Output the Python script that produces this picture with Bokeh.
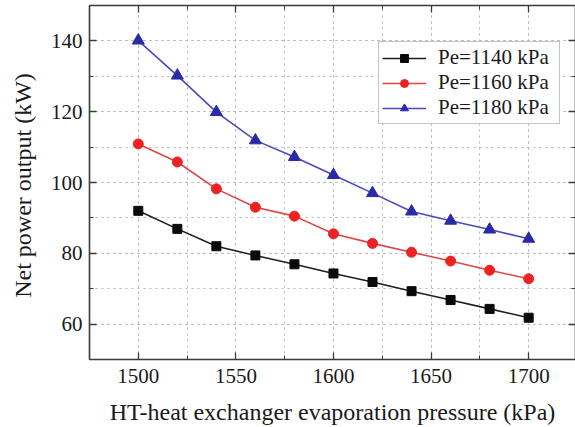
from bokeh.plotting import figure
from bokeh.models import (LinearAxis, SingleIntervalTicker, Range1d, Legend,
                          LegendItem, Grid)
from bokeh.embed import file_html
from bokeh.resources import INLINE

# HT-heat exchanger evaporation pressure (kPa)
pressure = [1500, 1520, 1540, 1560, 1580, 1600, 1620, 1640, 1660, 1680, 1700]

# Net power output (kW) for each condensing pressure Pe
power_1140 = [92.0, 86.9, 82.0, 79.4, 76.9, 74.3, 71.9, 69.3, 66.8, 64.3, 61.8]
power_1160 = [110.9, 105.8, 98.2, 93.0, 90.5, 85.5, 82.8, 80.3, 77.8, 75.2, 72.8]
power_1180 = [140.1, 130.2, 119.9, 111.9, 107.2, 102.1, 97.0, 91.8, 89.2, 86.7, 84.1]

series_labels = ["Pe=1140 kPa", "Pe=1160 kPa", "Pe=1180 kPa"]

FONT = "Liberation Serif"
TEXT = "#1a1a1a"
AXIS = "#3a3a3a"

p = figure(width=575, height=427, output_backend="svg", toolbar_location=None,
           x_range=Range1d(1475, 1724), y_range=Range1d(50, 150),
           x_axis_type=None, y_axis_type=None,
           min_border_left=89, min_border_right=0, min_border_top=5,
           min_border_bottom=66)
p.outline_line_color = None
p.background_fill_color = "white"
p.border_fill_color = "white"

xt = SingleIntervalTicker(interval=50, num_minor_ticks=2)
yt = SingleIntervalTicker(interval=20, num_minor_ticks=2)


def style_axis(ax, show_labels):
    ax.axis_line_color = AXIS
    ax.axis_line_width = 1.6
    ax.major_tick_line_color = AXIS
    ax.minor_tick_line_color = AXIS
    ax.major_tick_line_width = 1.3
    ax.minor_tick_line_width = 1.0
    ax.major_tick_in = 7
    ax.major_tick_out = 0
    ax.minor_tick_in = 4
    ax.minor_tick_out = 0
    ax.major_label_text_font = FONT
    ax.major_label_text_font_size = "21px"
    ax.axis_label_text_font = FONT
    ax.axis_label_text_font_style = "normal"
    ax.axis_label_text_color = TEXT
    ax.axis_label_text_font_size = "24px"
    if show_labels:
        ax.major_label_text_color = TEXT
    else:
        # mirror axis: ticks only
        ax.major_label_text_color = None
        ax.major_label_standoff = 0


xb = LinearAxis(ticker=xt, axis_label="HT-heat exchanger evaporation pressure (kPa)")
style_axis(xb, True)
xb.major_label_standoff = 9
xb.axis_label_standoff = 13
p.add_layout(xb, "below")

yl = LinearAxis(ticker=yt, axis_label="Net power output  (kW)")
style_axis(yl, True)
yl.major_label_standoff = 7
yl.axis_label_standoff = 12
p.add_layout(yl, "left")

xa = LinearAxis(ticker=xt)
style_axis(xa, False)
p.add_layout(xa, "above")

yr = LinearAxis(ticker=yt)
style_axis(yr, False)
p.add_layout(yr, "right")

# dotted grid on major and minor ticks
for dim, tk in ((0, xt), (1, yt)):
    g = Grid(dimension=dim, ticker=tk)
    g.grid_line_color = "#b5b5b5"
    g.grid_line_dash = "dotted"
    g.grid_line_width = 1
    g.minor_grid_line_color = "#b5b5b5"
    g.minor_grid_line_dash = "dotted"
    g.minor_grid_line_width = 1
    p.add_layout(g)

items = []

l1 = p.line(pressure, power_1140, line_color="#1e1e1e", line_width=1.6)
m1 = p.scatter(pressure, power_1140, marker="square", size=9,
               fill_color="#0a0a0a", line_color="#0a0a0a")
items.append(LegendItem(label=series_labels[0], renderers=[l1, m1]))

l2 = p.line(pressure, power_1160, line_color="#e04545", line_width=1.6)
m2 = p.scatter(pressure, power_1160, marker="circle", size=10,
               fill_color="#ee2222", line_color="#ee2222")
items.append(LegendItem(label=series_labels[1], renderers=[l2, m2]))

l3 = p.line(pressure, power_1180, line_color="#4a4ac0", line_width=1.6)
m3 = p.scatter(pressure, power_1180, marker="triangle", size=12,
               fill_color="#2a2aa8", line_color="#2a2aa8")
items.append(LegendItem(label=series_labels[2], renderers=[l3, m3]))

legend = Legend(items=items, location=(289, 235))
legend.label_text_font = FONT
legend.label_text_font_size = "21px"
legend.label_text_color = TEXT
legend.border_line_color = "#8a8a8a"
legend.border_line_width = 1.5
legend.background_fill_color = "white"
legend.background_fill_alpha = 1.0
legend.glyph_width = 44
legend.glyph_height = 20
legend.label_height = 20
legend.label_width = 118
legend.label_standoff = 12
legend.spacing = 0
legend.padding = 3
legend.margin = 0
p.add_layout(legend, "center")

open("out.html", "w").write(file_html(p, INLINE))
